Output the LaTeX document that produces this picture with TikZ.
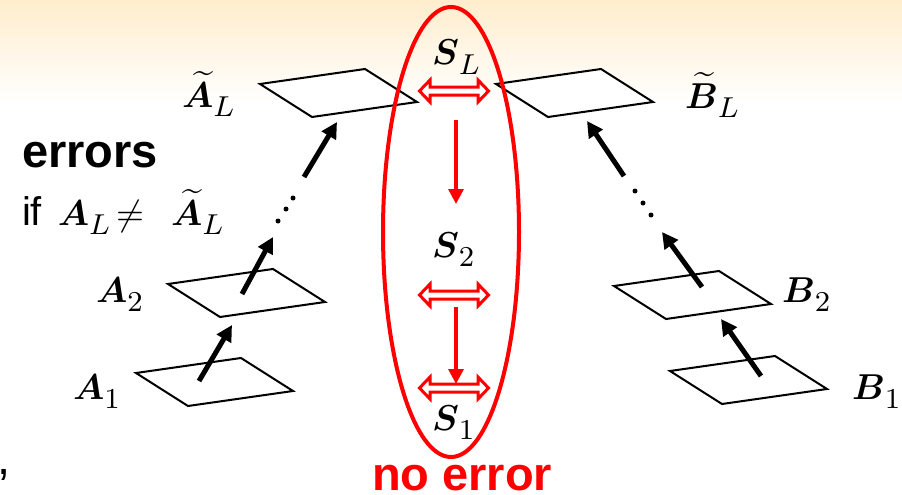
\documentclass[tikz,border=0pt]{standalone}
\usepackage{amsmath}
\usepackage{bm}
\usepackage{fontspec}
\newfontfamily\arialf{Liberation Sans}
\usetikzlibrary{arrows.meta}
\definecolor{peach}{RGB}{255,237,205}
\newcommand{\mlbl}[2]{{\fontsize{10}{12}\selectfont$\bm{#1}$\raisebox{-2.5pt}{\fontsize{8.5}{10}\selectfont$#2$}}}
\newcommand{\mlblt}[2]{{\fontsize{10}{12}\selectfont$\widetilde{\bm{#1}}$\raisebox{-2.5pt}{\fontsize{8.5}{10}\selectfont$#2$}}}
\tikzset{
  plane/.style={draw=black, line width=2pt, fill=white, line join=miter},
  uparrow/.style={line width=5pt, -{Triangle[length=16pt,width=16pt]}},
  redarrow/.style={draw=red, line width=3.3pt, -{Triangle[length=15pt,width=15pt]}},
  dbl/.style={draw=red, line width=3pt, fill=white, line join=miter},
  lbl/.style={anchor=base west, inner sep=0pt, outer sep=0pt},
  mlb/.style={lbl, scale=3.6, transform shape},
  dotmark/.style={fill=black, circle, inner sep=0pt, minimum size=5pt},
  dblarrow/.pic={\draw[dbl] (-34.5,0) -- (-24,11) -- (-24,4) -- (24,4) -- (24,11) -- (34.5,0) -- (24,-11) -- (24,-4) -- (-24,-4) -- (-24,-11) -- cycle;}
}
\begin{document}
\begin{tikzpicture}[x=1pt,y=-1pt]
\useasboundingbox (0,0) rectangle (902,495);
\shade[top color=peach, bottom color=white] (0,0) rectangle (902,102);
% planes
\coordinate (pAL) at (260,84);
\coordinate (pA2) at (168,284);
\coordinate (pA1) at (136,373);
\coordinate (pBL) at (496,84);
\coordinate (pB2) at (614,286);
\coordinate (pB1) at (670,371);
\foreach \p in {pAL,pA2,pA1,pBL,pB2,pB1}
  \draw[plane] (\p) -- ++(105,-15) -- ++(52,33) -- ++(-105,15) -- cycle;
% arrow endpoints
\coordinate (a1t) at (199,381);
\coordinate (a2h) at (232,325);
\coordinate (a2t) at (242,294);
\coordinate (d1h) at (273,237);
\coordinate (d1t) at (304,177);
\coordinate (alh) at (337,122);
\coordinate (b1t) at (761,376);
\coordinate (b2h) at (721,319);
\coordinate (b2t) at (702,287);
\coordinate (d2h) at (662,232);
\coordinate (d2t) at (624,176);
\coordinate (blh) at (587,121);
\draw[uparrow] (a1t) -- (a2h);
\draw[uparrow] (a2t) -- (d1h);
\draw[uparrow] (d1t) -- (alh);
\draw[uparrow] (b1t) -- (b2h);
\draw[uparrow] (b2t) -- (d2h);
\draw[uparrow] (d2t) -- (blh);
\node[dotmark] (da1) at (278,221) {};
\node[dotmark] (da2) at (286,209) {};
\node[dotmark] (da3) at (293,198) {};
\node[dotmark] (db1) at (651,215) {};
\node[dotmark] (db2) at (643,203) {};
\node[dotmark] (db3) at (635,191) {};
% labels
\node[mlb] (lAL) at (182,107) {\mlblt{A}{L}};
\node[mlb] (lBL) at (685,108) {\mlblt{B}{L}};
\node[mlb] (lA2) at (96,302) {\mlbl{A}{2}};
\node[mlb] (lA1) at (73,399) {\mlbl{A}{1}};
\node[mlb] (lB2) at (782,302) {\mlbl{B}{2}};
\node[mlb] (lB1) at (852,399) {\mlbl{B}{1}};
\node[mlb] (lSL) at (432,65) {\mlbl{S}{L}};
\node[mlb] (lS2) at (432,257) {\mlbl{S}{2}};
\node[mlb] (lS1) at (432,430) {\mlbl{S}{1}};
% left texts
\node[lbl] (err) at (22,167) {\arialf\bfseries\fontsize{47}{50}\selectfont errors};
\node[mlb] (cond) at (22,225) {{\arialf\fontsize{11.1}{13}\selectfont if}\hspace{4.4pt}\mlbl{A}{L}\hspace{1.7pt}{\fontsize{10}{12}\selectfont$\neq$}\hspace{7.5pt}\mlblt{A}{L}};
\node[lbl] (comma) at (-2,474) {\arialf\fontsize{47}{50}\selectfont ,};
% ellipse
\draw[red, line width=4pt] (451,232) ellipse [x radius=68pt, y radius=225pt];
% double arrows
\pic (e1) at (454,91) {dblarrow};
\pic (e2) at (454,295) {dblarrow};
\pic (e3) at (454,388) {dblarrow};
\coordinate (r1t) at (456,120);
\coordinate (r1h) at (456,204);
\coordinate (r2t) at (456,307);
\coordinate (r2h) at (456,384);
\draw[redarrow] (r1t) -- (r1h);
\draw[redarrow] (r2t) -- (r2h);
\node[lbl, text=red] (noerr) at (372,490) {\arialf\bfseries\fontsize{47}{50}\selectfont no error};
\end{tikzpicture}
\end{document}
